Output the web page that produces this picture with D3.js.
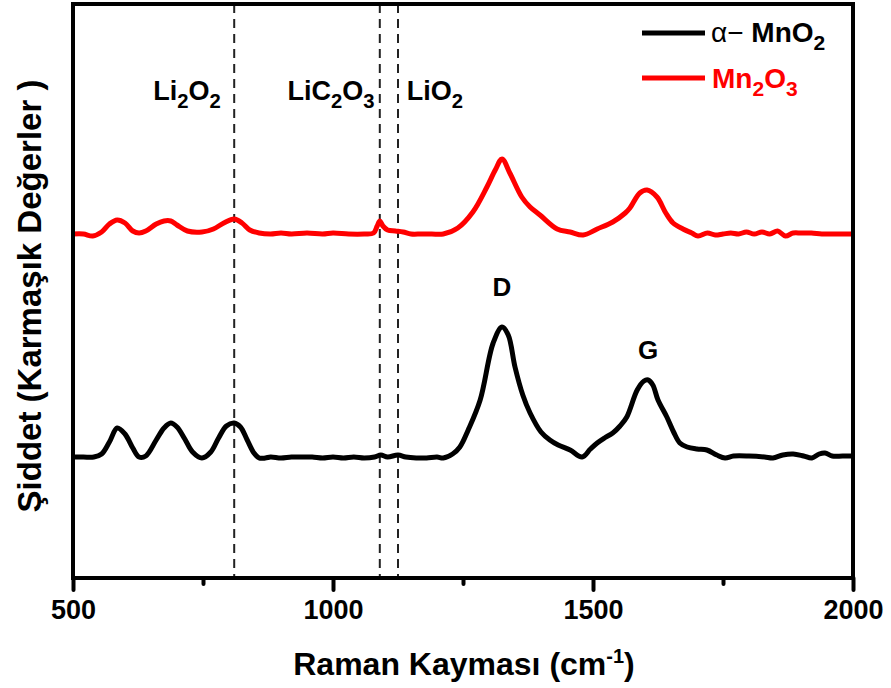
<!DOCTYPE html>
<html><head><meta charset="utf-8">
<script src="https://cdn.jsdelivr.net/npm/d3@7/dist/d3.min.js"></script>
<style>body{margin:0;background:#fff}svg{display:block}text{font-family:Arial,"Liberation Sans",sans-serif}</style>
</head><body><div id="chart"></div>
<script>
// Raman shift (cm^-1) and intensity (arbitrary units)
const mno2X = [500,520,540,555,570,585,600,615,627,640,660,675,688,700,715,730,748,765,780,795,810,822,835,848,858,870,880,900,920,940,960,980,1000,1020,1040,1060,1080,1092,1105,1125,1140,1160,1180,1200,1212,1230,1244,1260,1283,1308,1325,1337,1350,1365,1379,1400,1417,1433,1456,1479,1495,1508,1522,1538,1552,1565,1585,1598,1606,1615,1625,1642,1655,1667,1681,1700,1719,1738,1754,1770,1800,1830,1846,1865,1885,1905,1921,1935,1946,1960,1980,2000];
const mno2Y = [121,121,121,124,136,150,144,130,121,122,138,150,155,151,139,126,120,126,140,152,155,151,138,125,120,120,121,120,121,121,121,120,121,120,121,120,121,123,121,123,121,120,120,121,120,124,131,148,178,235,251,243,211,183,165,146,138,133,128,121,129,135,140,145,152,161,188,197,198,193,178,161,146,135,131,129,128,123,120,122,122,121,120,123,124,122,120,124,125,122,122,122];
const mn2o3X = [500,520,538,555,570,585,600,615,627,640,660,675,688,700,720,748,770,790,810,825,840,858,880,900,920,950,980,1000,1030,1060,1078,1085,1090,1096,1105,1120,1135,1150,1170,1190,1212,1240,1269,1296,1312,1325,1340,1363,1379,1398,1431,1456,1481,1508,1538,1562,1571,1590,1604,1623,1640,1654,1673,1690,1702,1720,1735,1750,1765,1780,1795,1810,1825,1840,1855,1870,1885,1900,1920,1940,1960,1980,2000];
const mn2o3Y = [344,344,342,346,354,358,355,347,345,347,354,357,357,353,347,346,349,355,359,355,348,345,344,345,344,345,344,345,344,344,345,352,357,352,348,347,346,344,344,344,344,350,366,391,408,419,405,381,371,363,349,346,343,349,356,365,370,385,388,381,365,355,349,345,342,345,343,344,345,344,346,344,346,344,347,342,345,345,345,344,344,344,344];
const refLines = [810, 1090, 1125];
const refLabels = [["Li","2","O","2"],["LiC","2","O","3"],["LiO","2"]];
const refLabelX = [187, 331, 435];
const xTicks = [500, 1000, 1500, 2000];
const xMinor = [750, 1250, 1750];
const peakLabels = [{t:"D", x:1325, y:282}, {t:"G", x:1606, y:219}];

const W = 891, H = 688;
const m = {l:73, r:38, t:4, b:110};
const svg = d3.select("#chart").append("svg").attr("width", W).attr("height", H);
const x = d3.scaleLinear().domain([500, 2000]).range([m.l, W - m.r]);
const y = d3.scaleLinear().domain([0, 574]).range([H - m.b, m.t]);

// dashed reference lines
svg.selectAll("line.ref").data(refLines).join("line")
  .attr("x1", d => x(d)).attr("x2", d => x(d))
  .attr("y1", y(574)).attr("y2", y(0))
  .attr("stroke", "#222").attr("stroke-width", 2).attr("stroke-dasharray", "9,6");

const line = d3.line().x(d => x(d[0])).y(d => y(d[1])).curve(d3.curveCatmullRom);
svg.append("path").datum(d3.zip(mno2X, mno2Y)).attr("d", line)
  .attr("fill", "none").attr("stroke", "#000").attr("stroke-width", 5).attr("stroke-linejoin", "round");
svg.append("path").datum(d3.zip(mn2o3X, mn2o3Y)).attr("d", line)
  .attr("fill", "none").attr("stroke", "#ff0000").attr("stroke-width", 5).attr("stroke-linejoin", "round");

// frame
svg.append("rect").attr("x", x(500)).attr("y", y(574)).attr("width", x(2000) - x(500)).attr("height", y(0) - y(574))
  .attr("fill", "none").attr("stroke", "#000").attr("stroke-width", 4);

// x axis
const ax = svg.append("g").attr("transform", `translate(0,${y(0)})`)
  .call(d3.axisBottom(x).tickValues(xTicks).tickSize(12).tickFormat(d3.format("d")));
ax.select(".domain").remove();
ax.selectAll(".tick line").attr("stroke-width", 4).attr("stroke-linecap", "round");
ax.selectAll(".tick text").attr("font-size", 27).attr("font-weight", "bold").attr("dy", "0.95em").attr("fill", "#000");
const axm = svg.append("g").attr("transform", `translate(0,${y(0)})`)
  .call(d3.axisBottom(x).tickValues(xMinor).tickSize(6).tickFormat(""));
axm.select(".domain").remove();
axm.selectAll(".tick line").attr("stroke-width", 4).attr("stroke-linecap", "round");

// subscripted text helper
function subText(g, parts, opts) {
  const t = g.append("text").attr("x", opts.x).attr("y", opts.y).attr("text-anchor", opts.anchor || "start")
    .attr("font-size", opts.size).attr("font-weight", opts.weight || "bold").attr("fill", opts.fill || "#000");
  parts.forEach((p, i) => {
    const isSub = i % 2 === 1;
    t.append("tspan").text(p).attr("font-size", isSub ? opts.size * 0.75 : opts.size)
      .attr("dy", isSub ? opts.size * 0.28 : (i > 0 ? -opts.size * 0.28 : 0));
  });
  return t;
}
refLabels.forEach((p, i) => subText(svg, p, {x: refLabelX[i], y: 100, size: 27, anchor: "middle", weight: "600"}));

// peak labels
svg.selectAll("text.pk").data(peakLabels).join("text")
  .attr("x", d => x(d.x)).attr("y", d => y(d.y)).attr("text-anchor", "middle")
  .attr("font-size", 26).attr("font-weight", "bold").text(d => d.t);

// legend
const lg = svg.append("g");
lg.append("line").attr("x1", 642).attr("x2", 705).attr("y1", 33).attr("y2", 33).attr("stroke", "#000").attr("stroke-width", 5);
lg.append("line").attr("x1", 642).attr("x2", 705).attr("y1", 78).attr("y2", 78).attr("stroke", "#ff0000").attr("stroke-width", 5);
const t1 = lg.append("text").attr("x", 711).attr("y", 42).attr("font-size", 28).attr("fill", "#000");
t1.append("tspan").text("α− ").attr("font-weight", "normal");
t1.append("tspan").text("MnO").attr("font-weight", "bold");
t1.append("tspan").text("2").attr("font-weight", "bold").attr("font-size", 21).attr("dy", 8);
subText(lg, ["Mn","2","O","3"], {x: 712, y: 88, size: 28, fill: "#ff0000"});

// axis titles
const xt = svg.append("text").attr("x", 464).attr("y", 675).attr("text-anchor", "middle")
  .attr("font-size", 32).attr("font-weight", "bold");
xt.append("tspan").text("Raman Kayması (cm");
xt.append("tspan").text("-1").attr("font-size", 20).attr("dy", -12);
xt.append("tspan").text(")").attr("dy", 12);
svg.append("text").attr("transform", "translate(41,296) rotate(-90)").attr("text-anchor", "middle")
  .attr("font-size", 33).attr("font-weight", "bold").text("Şiddet (Karmaşık Değerler )");
</script></body></html>
